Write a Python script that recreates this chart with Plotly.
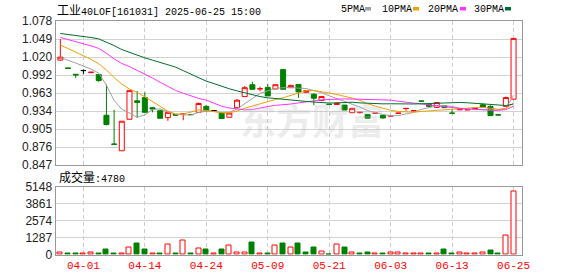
import plotly.graph_objects as go

# ---------------- data ----------------
dates = ["03-27", "03-28", "03-31", "04-01", "04-02", "04-03", "04-07", "04-08", "04-09", "04-10",
         "04-11", "04-14", "04-15", "04-16", "04-17", "04-18", "04-21", "04-22", "04-23", "04-24",
         "04-25", "04-28", "04-29", "04-30", "05-06", "05-07", "05-08", "05-09", "05-12", "05-13",
         "05-14", "05-15", "05-16", "05-19", "05-20", "05-21", "05-22", "05-23", "05-26", "05-27",
         "05-28", "05-29", "05-30", "06-03", "06-04", "06-05", "06-06", "06-09", "06-10", "06-11",
         "06-12", "06-13", "06-16", "06-17", "06-18", "06-19", "06-20", "06-23", "06-24", "06-25"]

opens = [1.0153, 1.0026, 0.9925, 0.9985, 0.9955, 0.9921, 0.9268, 0.8806, 0.8698, 0.9204,
         0.9500, 0.9552, 0.9389, 0.9341, 0.9230, 0.9280, 0.9292, 0.9281, 0.9315, 0.9410,
         0.9342, 0.9304, 0.9236, 0.9389, 0.9568, 0.9758, 0.9692, 0.9715, 0.9689, 1.0000,
         0.9710, 0.9763, 0.9636, 0.9605, 0.9505, 0.9445, 0.9440, 0.9431, 0.9310, 0.9313,
         0.9278, 0.9299, 0.9268, 0.9255, 0.9298, 0.9376, 0.9338, 0.9496, 0.9440, 0.9394,
         0.9420, 0.9302, 0.9355, 0.9354, 0.9375, 0.9436, 0.9410, 0.9275, 0.9410, 0.9526]
highs = [1.0490, 1.0026, 0.9925, 1.0005, 0.9958, 0.9925, 0.9763, 0.9357, 0.9173, 0.9663,
         0.9657, 0.9636, 0.9400, 0.9357, 0.9315, 0.9283, 0.9294, 0.9281, 0.9473, 0.9431,
         0.9342, 0.9315, 0.9304, 0.9526, 0.9736, 0.9805, 0.9726, 0.9773, 0.9758, 1.0000,
         0.9757, 0.9763, 0.9663, 0.9621, 0.9568, 0.9450, 0.9470, 0.9431, 0.9380, 0.9315,
         0.9280, 0.9304, 0.9270, 0.9260, 0.9302, 0.9378, 0.9345, 0.9496, 0.9445, 0.9478,
         0.9425, 0.9368, 0.9365, 0.9358, 0.9378, 0.9457, 0.9426, 0.9275, 0.9568, 1.0501]
lows = [1.0142, 1.0021, 0.9868, 0.9925, 0.9940, 0.9800, 0.9104, 0.8799, 0.8698, 0.9204,
        0.9225, 0.9315, 0.9315, 0.9220, 0.9178, 0.9265, 0.9188, 0.9276, 0.9315, 0.9331,
        0.9342, 0.9215, 0.9236, 0.9389, 0.9568, 0.9684, 0.9652, 0.9578, 0.9689, 0.9684,
        0.9710, 0.9547, 0.9635, 0.9430, 0.9505, 0.9440, 0.9435, 0.9352, 0.9310, 0.9289,
        0.9210, 0.9299, 0.9210, 0.9255, 0.9298, 0.9340, 0.9335, 0.9492, 0.9410, 0.9389,
        0.9385, 0.9300, 0.9355, 0.9354, 0.9375, 0.9400, 0.9262, 0.9271, 0.9410, 0.9515]
closes = [1.0200, 1.0021, 0.9915, 0.9985, 0.9958, 0.9826, 0.9120, 0.8802, 0.9173, 0.9663,
          0.9473, 0.9315, 0.9368, 0.9220, 0.9315, 0.9270, 0.9294, 0.9278, 0.9457, 0.9341,
          0.9342, 0.9215, 0.9304, 0.9510, 0.9710, 0.9684, 0.9694, 0.9578, 0.9758, 0.9684,
          0.9747, 0.9642, 0.9663, 0.9541, 0.9568, 0.9442, 0.9460, 0.9352, 0.9378, 0.9315,
          0.9220, 0.9304, 0.9225, 0.9260, 0.9302, 0.9378, 0.9342, 0.9494, 0.9410, 0.9473,
          0.9390, 0.9300, 0.9365, 0.9358, 0.9378, 0.9400, 0.9262, 0.9273, 0.9552, 1.0501]

ma5 = [1.0195, 1.0154, 1.0105, 1.0058, 1.0008, 0.9944, 0.9749, 0.9506, 0.9367, 0.9303,
       0.9236, 0.9274, 0.9357, 0.9372, 0.9321, 0.9288, 0.9273, 0.9272, 0.9314, 0.9332,
       0.9329, 0.9313, 0.9316, 0.9368, 0.9458, 0.9537, 0.9619, 0.9665, 0.9700, 0.9709,
       0.9715, 0.9702, 0.9697, 0.9662, 0.9632, 0.9580, 0.9536, 0.9484, 0.9446, 0.9400,
       0.9343, 0.9309, 0.9281, 0.9261, 0.9262, 0.9289, 0.9313, 0.9362, 0.9392, 0.9420,
       0.9421, 0.9409, 0.9383, 0.9370, 0.9358, 0.9359, 0.9353, 0.9346, 0.9376, 0.9588]
ma10 = [1.0395, 1.0338, 1.0278, 1.0223, 1.0165, 1.0092, 0.9994, 0.9872, 0.9768, 0.9688,
        0.9634, 0.9564, 0.9484, 0.9401, 0.9334, 0.9286, 0.9289, 0.9321, 0.9353, 0.9345,
        0.9323, 0.9307, 0.9307, 0.9335, 0.9381, 0.9417, 0.9455, 0.9486, 0.9520, 0.9548,
        0.9586, 0.9631, 0.9662, 0.9667, 0.9649, 0.9624, 0.9601, 0.9577, 0.9542, 0.9508,
        0.9453, 0.9415, 0.9375, 0.9347, 0.9329, 0.9322, 0.9317, 0.9329, 0.9336, 0.9349,
        0.9360, 0.9363, 0.9375, 0.9382, 0.9392, 0.9393, 0.9381, 0.9365, 0.9377, 0.9463]
ma20 = [1.0516, 1.0485, 1.0448, 1.0415, 1.0381, 1.0340, 1.0264, 1.0172, 1.0098, 1.0049,
        0.9990, 0.9926, 0.9865, 0.9796, 0.9732, 0.9666, 0.9621, 0.9575, 0.9538, 0.9510,
        0.9460, 0.9413, 0.9385, 0.9365, 0.9356, 0.9358, 0.9377, 0.9408, 0.9427, 0.9433,
        0.9448, 0.9466, 0.9485, 0.9500, 0.9515, 0.9521, 0.9528, 0.9530, 0.9528, 0.9525,
        0.9524, 0.9527, 0.9525, 0.9511, 0.9492, 0.9474, 0.9460, 0.9450, 0.9434, 0.9423,
        0.9409, 0.9392, 0.9377, 0.9367, 0.9360, 0.9356, 0.9351, 0.9349, 0.9359, 0.9415]
ma30 = [1.0580, 1.0566, 1.0550, 1.0533, 1.0515, 1.0493, 1.0445, 1.0385, 1.0322, 1.0274,
        1.0232, 1.0189, 1.0152, 1.0118, 1.0082, 1.0041, 0.9984, 0.9927, 0.9870, 0.9815,
        0.9775, 0.9731, 0.9693, 0.9659, 0.9629, 0.9592, 0.9568, 0.9548, 0.9535, 0.9521,
        0.9506, 0.9497, 0.9490, 0.9480, 0.9471, 0.9464, 0.9467, 0.9477, 0.9477, 0.9466,
        0.9459, 0.9456, 0.9451, 0.9452, 0.9449, 0.9451, 0.9449, 0.9452, 0.9452, 0.9459,
        0.9465, 0.9472, 0.9473, 0.9468, 0.9460, 0.9450, 0.9435, 0.9427, 0.9424, 0.9448]

volume = [130, 60, 60, 60, 130, 60, 430, 60, 60, 580,
          810, 430, 60, 60, 790, 60, 1090, 60, 480, 430,
          60, 430, 660, 130, 130, 890, 60, 60, 660, 810,
          580, 810, 200, 580, 250, 20, 740, 580, 200, 60,
          130, 60, 60, 130, 130, 60, 60, 60, 60, 60,
          430, 60, 130, 60, 60, 130, 355, 60, 1470, 4780]
# 1 = red (up day), 0 = green (down day), as coloured in the volume panel
volume_up = [1, 0, 0, 1, 1, 0, 0, 0, 1, 1,
             0, 0, 1, 0, 1, 0, 1, 0, 1, 0,
             1, 0, 1, 1, 1, 0, 1, 0, 1, 0,
             1, 0, 0, 0, 1, 0, 1, 0, 1, 0,
             0, 1, 0, 1, 1, 1, 1, 1, 0, 1,
             0, 0, 1, 1, 1, 1, 0, 0, 1, 1]

price_ticks = [0.847, 0.875875, 0.90475, 0.933625, 0.9625, 0.991375, 1.02025, 1.049125, 1.078]
price_tick_text = ["0.847", "0.876", "0.905", "0.934", "0.963", "0.992", "1.020", "1.049", "1.078"]
vol_ticks = [0, 1287, 2574, 3861, 5148]
vol_tick_text = ["0", "1287", "2574", "3861", "5148"]
label_dates = ["04-01", "04-14", "04-24", "05-09", "05-21", "06-03", "06-13", "06-25"]

title_cjk = "工业"
title_rest = "40LOF[161031] 2025-06-25 15:00"
vol_label_cjk = "成交量"
last_volume = "4780"
ma_names = ["5PMA", "10PMA", "20PMA", "30PMA"]

# ---------------- style ----------------
W, H = 578, 276
RED = "#ff0000"
GREEN = "#008000"
MA_COLORS = ["#a0a0a0", "#f0a000", "#ff33ff", "#006e2e"]
MONO = "Liberation Mono"
CJK = "Noto Sans CJK SC"


def px(x):
    return x / W


def py(y):
    return 1 - y / H


n = len(dates)


def pick(cond):
    idx = [i for i in range(n) if cond(opens[i], closes[i])]
    return dict(x=[dates[i] for i in idx], open=[opens[i] for i in idx],
                high=[highs[i] for i in idx], low=[lows[i] for i in idx],
                close=[closes[i] for i in idx])


def candle_style(line_color, fill):
    return dict(line=dict(color=line_color, width=1), fillcolor=fill)


fig = go.Figure()

groups = [
    (lambda o, c: c > o, RED, "white"),
    (lambda o, c: c < o, GREEN, GREEN),
    (lambda o, c: c == o, "#000000", "#000000"),
]
for cond, lc, fc in groups:
    d = pick(cond)
    if d["x"]:
        fig.add_trace(go.Candlestick(**d, increasing=candle_style(lc, fc),
                                     decreasing=candle_style(lc, fc),
                                     whiskerwidth=0, xaxis="x", yaxis="y",
                                     hoverinfo="skip"))

for ma, col in zip([ma5, ma10, ma20, ma30], MA_COLORS):
    fig.add_trace(go.Scatter(x=dates, y=ma, mode="lines", line=dict(color=col, width=1),
                             xaxis="x", yaxis="y", hoverinfo="skip"))

fig.add_trace(go.Bar(
    x=dates, y=volume, width=0.65,
    marker=dict(color=["white" if u else GREEN for u in volume_up],
                line=dict(color=[RED if u else GREEN for u in volume_up], width=1)),
    xaxis="x2", yaxis="y2", hoverinfo="skip"))

xdom = [px(55.5), px(522)]
xrange = [-0.63, 60.1]
common_x = dict(type="category", categoryorder="array", categoryarray=dates,
                range=xrange, autorange=False, domain=xdom, tickmode="array",
                tickvals=label_dates, ticktext=label_dates, tickangle=0, showgrid=True,
                gridcolor="#cccccc", griddash="4px,3px", gridwidth=1,
                showline=True, mirror=True, linecolor="#999999", linewidth=1,
                ticks="", zeroline=False, rangeslider=dict(visible=False), fixedrange=True,
                automargin=False)
common_y = dict(showgrid=True, gridcolor="#d2d2d2", gridwidth=1, showline=True, mirror=True,
                linecolor="#999999", linewidth=1, ticks="", zeroline=False, tickmode="array",
                tickfont=dict(family="Liberation Sans", size=12, color="#222222"),
                fixedrange=True, automargin=False)

fig.update_layout(
    template="none",
    width=W, height=H, autosize=False, margin=dict(l=0, r=0, t=0, b=0, pad=0),
    paper_bgcolor="white", plot_bgcolor="white", showlegend=False,
    boxgap=0.35, boxgroupgap=0, bargap=0,
    xaxis=dict(**common_x, anchor="y", showticklabels=False),
    yaxis=dict(**common_y, domain=[py(165), py(21)], range=[0.847, 1.078],
               tickvals=price_ticks, ticktext=price_tick_text, anchor="x"),
    xaxis2=dict(**common_x, anchor="y2", showticklabels=True, matches="x",
                tickfont=dict(family=MONO, size=11, color=RED)),
    yaxis2=dict(**common_y, domain=[py(254.7), py(186.5)], range=[0, 5148],
                tickvals=vol_ticks, ticktext=vol_tick_text, anchor="x2"),
)

annotations = []
# watermark
annotations.append(dict(x=px(312), y=py(91), xref="paper", yref="paper",
                        text="<b>东方财富</b>", showarrow=False,
                        font=dict(family=CJK, size=36, color="rgba(190,190,190,0.28)")))
# title
annotations.append(dict(
    x=px(55), y=py(9), xref="paper", yref="paper", xanchor="left", yanchor="middle",
    showarrow=False,
    text=f'<span style="font-family:{CJK};font-size:12px">{title_cjk}</span>{title_rest}',
    font=dict(family=MONO, size=10, color="#000000")))
# volume label
annotations.append(dict(
    x=px(57), y=py(176.5), xref="paper", yref="paper", xanchor="left", yanchor="middle",
    showarrow=False,
    text=f'<span style="font-family:{CJK};font-size:12px">{vol_label_cjk}</span>:{last_volume}',
    font=dict(family=MONO, size=10, color="#000000")))

shapes = []
legend_x = [339, 380, 426, 472]
square_x = [365, 413, 460, 505]
for name, lx, sx, col in zip(ma_names, legend_x, square_x, MA_COLORS):
    annotations.append(dict(x=px(lx), y=py(9), xref="paper", yref="paper", xanchor="left",
                            yanchor="middle", showarrow=False, text=name,
                            font=dict(family=MONO, size=10, color="#000000")))
    shapes.append(dict(type="rect", xref="paper", yref="paper", x0=px(sx), x1=px(sx + 6),
                       y0=py(10.5), y1=py(7), fillcolor=col, line=dict(width=0)))

fig.update_layout(annotations=annotations, shapes=shapes)

fig.write_html("out.html")
